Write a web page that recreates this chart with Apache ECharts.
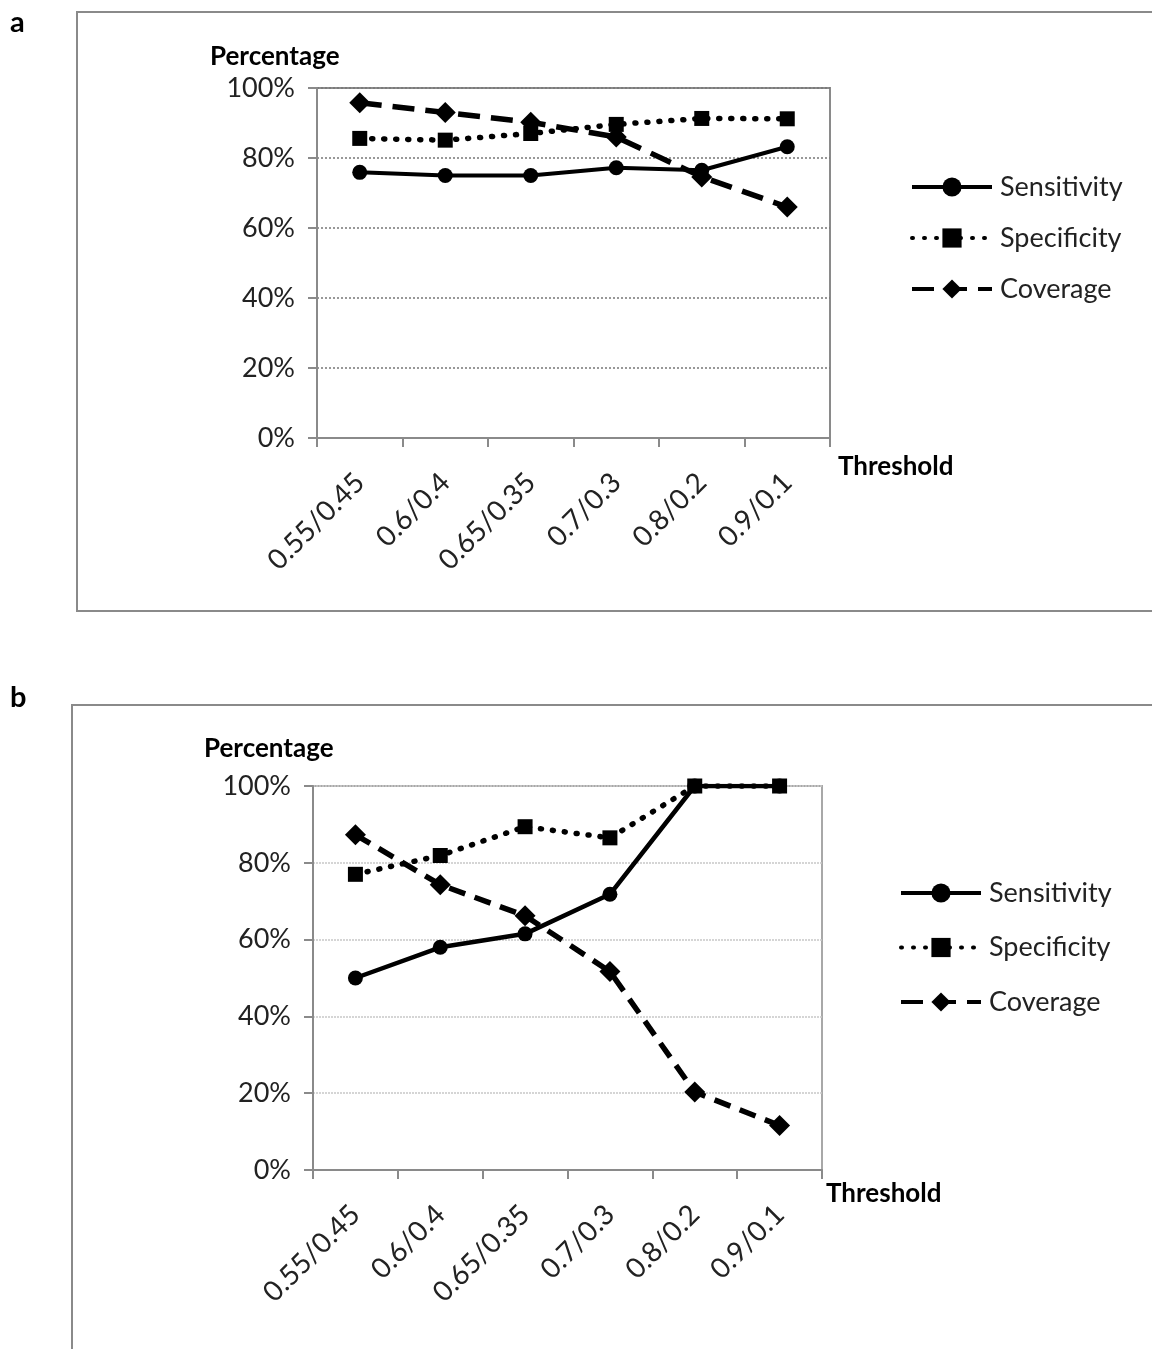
<!DOCTYPE html>
<html>
<head>
<meta charset="utf-8">
<script src="https://cdn.jsdelivr.net/npm/echarts@6/dist/echarts.min.js"></script>
<style>
html,body{margin:0;padding:0;background:#fff;}
#chart{width:1152px;height:1349px;}
</style>
</head>
<body>
<div id="chart"></div>
<script>
var categories = ['0.55/0.45', '0.6/0.4', '0.65/0.35', '0.7/0.3', '0.8/0.2', '0.9/0.1'];
var yTicks = [0, 20, 40, 60, 80, 100];
var seriesNames = ['Sensitivity', 'Specificity', 'Coverage'];

// Panel a
var aSensitivity = [75.9, 75.0, 75.0, 77.2, 76.5, 83.2];
var aSpecificity = [85.6, 85.1, 87.0, 89.6, 91.3, 91.2];
var aCoverage    = [95.8, 93.0, 90.2, 86.0, 74.6, 66.0];

// Panel b
var bSensitivity = [50.0, 58.0, 61.5, 71.8, 100, 100];
var bSpecificity = [77.0, 81.9, 89.4, 86.5, 100, 100];
var bCoverage    = [87.3, 74.3, 66.2, 51.7, 20.3, 11.6];

var FONT = 'Lato';
var AXIS_GRAY = '#8a8a8a';

function mkX(gridIndex) {
  return {
    type: 'category', gridIndex: gridIndex, data: categories, boundaryGap: true,
    axisLine: {show: true, lineStyle: {color: AXIS_GRAY, width: 2}},
    axisTick: {show: true, length: 9, alignWithLabel: false, lineStyle: {color: AXIS_GRAY, width: 2}},
    axisLabel: {rotate: 45, margin: 40, fontFamily: FONT, fontSize: 28, color: '#222', interval: 0},
    splitLine: {show: false}
  };
}
function mkY(gridIndex, gridColor, gridType) {
  return {
    type: 'value', gridIndex: gridIndex, min: yTicks[0], max: yTicks[yTicks.length - 1], interval: 20,
    axisLine: {show: true, lineStyle: {color: AXIS_GRAY, width: 2}},
    axisTick: {show: true, inside: false, length: 9, lineStyle: {color: AXIS_GRAY, width: 2}},
    axisLabel: {formatter: '{value}%', margin: 22, fontFamily: FONT, fontSize: 27, color: '#222'},
    splitLine: {show: true, lineStyle: {color: gridColor, width: 1.5, type: gridType}}
  };
}
function mkSeries(idx, s, sp, cv, dashPattern, dotPattern, lw) {
  return [
    {name: seriesNames[0], type: 'line', xAxisIndex: idx, yAxisIndex: idx, data: s,
     symbol: 'circle', symbolSize: 15, showSymbol: true,
     lineStyle: {color: '#000', width: lw, type: 'solid'},
     itemStyle: {color: '#000', borderWidth: 0}, z: 3},
    {name: seriesNames[1], type: 'line', xAxisIndex: idx, yAxisIndex: idx, data: sp,
     symbol: 'rect', symbolSize: 15,
     lineStyle: {color: '#000', width: 5.5, type: dotPattern, cap: 'round'},
     itemStyle: {color: '#000', borderWidth: 0}, z: 4},
    {name: seriesNames[2], type: 'line', xAxisIndex: idx, yAxisIndex: idx, data: cv,
     symbol: 'diamond', symbolSize: 21,
     lineStyle: {color: '#000', width: 5.5, type: dashPattern},
     itemStyle: {color: '#000', borderWidth: 0}, z: 5}
  ];
}
function mkLegend(left, top, gap) {
  return {
    orient: 'vertical', left: left, top: top, itemWidth: 80, itemHeight: 24, itemGap: gap,
    padding: 0,
    data: seriesNames,
    lineStyle: {width: 4},
    textStyle: {fontFamily: FONT, fontSize: 27, color: '#222', lineHeight: 32, padding: [0, 0, 0, 3]}
  };
}

var chart = echarts.init(document.getElementById('chart'), null, {renderer: 'canvas'});
var option = {
  backgroundColor: '#fff',
  animation: false,
  grid: [
    {left: 317, top: 88, width: 513, height: 350, show: true, borderColor: AXIS_GRAY, borderWidth: 2, backgroundColor: 'transparent'},
    {left: 313, top: 786, width: 509, height: 384, show: true, borderColor: '#a8a8a8', borderWidth: 2, backgroundColor: 'transparent'}
  ],
  xAxis: [mkX(0), mkX(1)],
  yAxis: [mkY(0, '#777', [2, 2]), mkY(1, '#c8c8c8', [2, 1])],
  legend: [
    Object.assign(mkLegend(910, 171, 19), {id: 'la'}),
    Object.assign(mkLegend(899, 877, 22.5), {id: 'lb'})
  ],
  series: []
    .concat(mkSeries(0, aSensitivity, aSpecificity, aCoverage, [22, 11], [1, 11], 4))
    .concat(mkSeries(1, bSensitivity, bSpecificity, bCoverage, [17, 10], [1, 11], 4.5)),
  graphic: [
    {type: 'rect', shape: {x: 77, y: 12, width: 1100, height: 599}, style: {fill: 'none', stroke: '#8a8a8a', lineWidth: 2}, z: -10},
    {type: 'rect', shape: {x: 72, y: 705, width: 1100, height: 700}, style: {fill: 'none', stroke: '#8a8a8a', lineWidth: 2}, z: -10},
    {type: 'text', left: 10, top: 8, style: {text: 'a', font: 'bold 29px ' + FONT, fill: '#000'}},
    {type: 'text', left: 10, top: 683, style: {text: 'b', font: 'bold 29px ' + FONT, fill: '#000'}},
    {type: 'text', left: 210, top: 44, style: {text: 'Percentage', font: 'bold 26px ' + FONT, fill: '#000'}},
    {type: 'text', left: 204, top: 736, style: {text: 'Percentage', font: 'bold 26px ' + FONT, fill: '#000'}},
    {type: 'text', left: 838, top: 454, style: {text: 'Threshold', font: 'bold 26px ' + FONT, fill: '#000'}},
    {type: 'text', left: 826, top: 1181, style: {text: 'Threshold', font: 'bold 26px ' + FONT, fill: '#000'}}
  ]
};
chart.setOption(option);
</script>
</body>
</html>
